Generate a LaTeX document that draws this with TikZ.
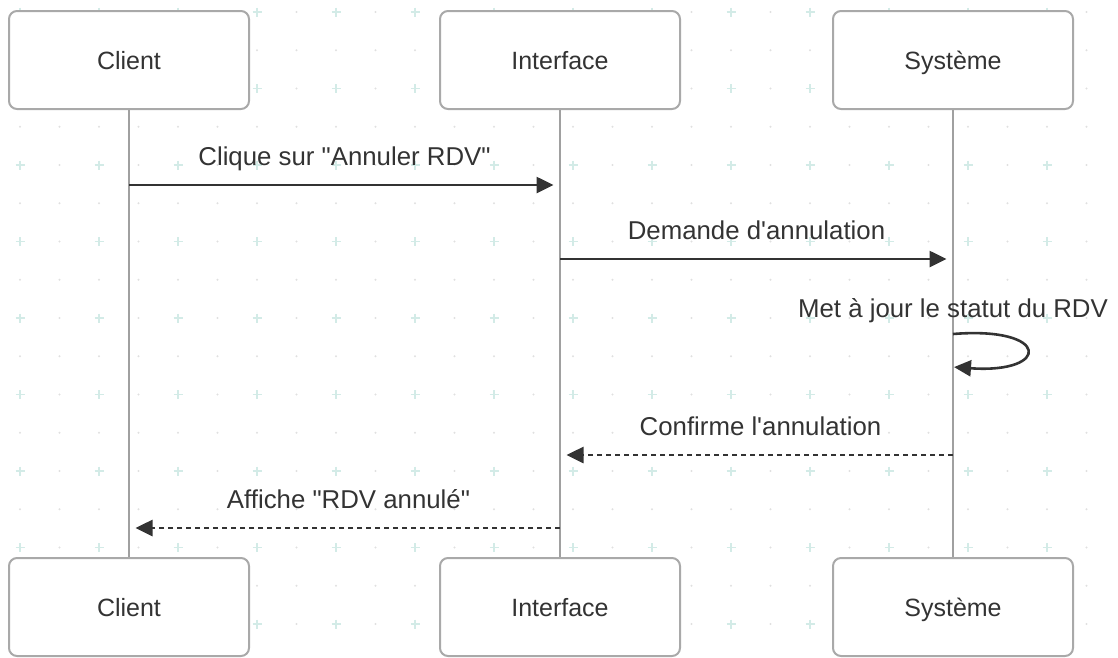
\documentclass[tikz,border=0pt]{standalone}
\usepackage{fontspec}
\setmainfont{Liberation Sans}[Ligatures=TeXOff]
\usetikzlibrary{arrows.meta,positioning}
\definecolor{txt}{HTML}{333333}
\definecolor{boxline}{HTML}{A9A9A9}
\definecolor{lifegray}{HTML}{A0A0A0}
\definecolor{gridplus}{HTML}{D3EBE7}
\definecolor{griddot}{HTML}{E0E0E0}
\newcommand\seqfont{\fontsize{25}{30}\selectfont}
\newcommand\msgfont{\fontsize{25.8}{30}\selectfont}
\tikzset{
  actor/.style={draw=boxline,line width=2pt,rounded corners=8pt,fill=white,
    minimum width=240pt,minimum height=98pt,text=txt,font=\seqfont,
    text height=18pt,text depth=0pt},
  lifeline/.style={draw=lifegray,line width=2pt},
  msg/.style={draw=txt,line width=2.6pt,-{Triangle[length=17pt,width=16pt]},shorten >=6.5pt},
  reply/.style={msg,dash pattern=on 5pt off 4pt},
  msglabel/.style={text=txt,font=\msgfont,anchor=base,inner sep=0pt}
}
\begin{document}
\begin{tikzpicture}[x=1pt,y=-1pt]
	\useasboundingbox (0,0) rectangle (1118,657);
	% background grid
	\foreach \i in {0,...,28}{\foreach \j in {0,...,16}{
		\pgfmathtruncatemacro\k{mod(\i,2)+mod(\j,2)}
		\ifnum\k=0
			\draw [gridplus,line width=1.1pt] (20+39.5*\i,12+38.25*\j) +(-4.5,0) -- +(4.5,0) +(0,-4.5) -- +(0,4.5);
		\else
			\fill [griddot] (20+39.5*\i,12+38.25*\j) circle (1.2);
		\fi}}
	% participants
	\node [actor] (cliTop) at (129,60) {Client};
	\node [actor] (intTop) at (560,60) {Interface};
	\node [actor] (sysTop) at (953,60) {Système};
	\node [actor] (cliBot) at (129,607) {Client};
	\node [actor] (intBot) at (560,607) {Interface};
	\node [actor] (sysBot) at (953,607) {Système};
	\draw [lifeline] (cliTop) -- (cliBot);
	\draw [lifeline] (intTop) -- (intBot);
	\draw [lifeline] (sysTop) -- (sysBot);
	% message rows
	\coordinate (r1) at (0,185);
	\coordinate (r2) at (0,259);
	\coordinate (r3a) at (0,334);
	\coordinate (r3b) at (0,367);
	\coordinate (r4) at (0,455);
	\coordinate (r5) at (0,528);
	\draw [msg] (cliTop |- r1) -- (intTop |- r1) node [msglabel,midway,yshift=20pt] (lblClique) {Clique sur "Annuler RDV"};
	\draw [msg] (intTop |- r2) -- (sysTop |- r2) node [msglabel,midway,yshift=20pt] (lblDemande) {Demande d'annulation};
	\node [msglabel] (lblStatut) at ([yshift=17pt]sysTop |- r3a) {Met à jour le statut du RDV};
	\draw [msg,shorten >=1pt] (sysTop |- r3a) .. controls (1051,326) and (1051,374) .. (sysTop |- r3b);
	\draw [reply] (sysTop |- r4) -- (intTop |- r4) node [msglabel,midway,yshift=20pt,xshift=4pt] (lblConfirme) {Confirme l'annulation};
	\draw [reply] (intTop |- r5) -- (cliTop |- r5) node [msglabel,midway,yshift=20pt,xshift=4pt] (lblAffiche) {Affiche "RDV annulé"};
\end{tikzpicture}
\end{document}
